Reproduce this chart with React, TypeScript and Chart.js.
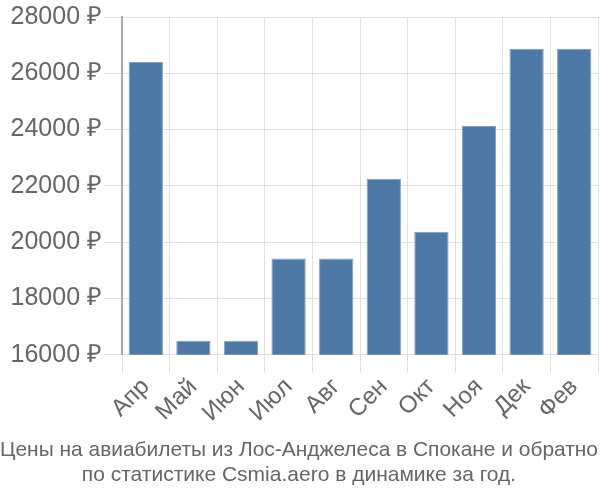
import React, { useEffect, useRef } from "react";
import { Chart, registerables } from "chart.js";

Chart.register(...registerables);

const categories = ["Апр", "Май", "Июн", "Июл", "Авг", "Сен", "Окт", "Ноя", "Дек", "Фев"];
const prices = [26400, 16500, 16500, 19420, 19420, 22250, 20370, 24130, 26870, 26870];
const titleLines = [
  "Цены на авиабилеты из Лос-Анджелеса в Спокане и обратно",
  "по статистике Csmia.aero в динамике за год.",
];

const FONT = "'Liberation Sans', Arial, sans-serif";

export default function App() {
  const ref = useRef<HTMLCanvasElement | null>(null);
  useEffect(() => {
    if (!ref.current) return;
    const chart = new Chart(ref.current, {
      type: "bar",
      data: {
        labels: categories,
        datasets: [
          {
            data: prices,
            backgroundColor: "#4e79a7",
            borderColor: "#7f9fc4",
            borderWidth: 1,
            categoryPercentage: 0.8,
            barPercentage: 0.9,
          },
        ],
      },
      options: {
        animation: false,
        responsive: true,
        maintainAspectRatio: false,
        layout: { padding: { left: 0, right: 2, top: 5, bottom: 0 } },
        plugins: {
          legend: { display: false },
          tooltip: { enabled: false },
          title: {
            display: true,
            position: "bottom",
            text: titleLines,
            color: "#666",
            font: { family: FONT, size: 21, weight: "normal" },
            padding: { top: 10, bottom: 12 },
            lineHeight: 1.3,
          },
        },
        scales: {
          x: {
            grid: { color: "#e0e0e0", lineWidth: 1, offset: true, tickLength: 18 },
            border: { color: "#e0e0e0" },
            ticks: {
              color: "#666",
              maxRotation: 45,
              minRotation: 45,
              padding: 0,
              font: { family: FONT, size: 24 },
            },
          },
          y: {
            min: 16000,
            max: 28000,
            afterFit: (scale: any) => {
              scale.width = 122;
            },
            grid: { color: "#e0e0e0", lineWidth: 1, tickLength: 18 },
            border: { color: "#aaa", width: 2 },
            ticks: {
              stepSize: 2000,
              color: "#666",
              padding: 2,
              font: { family: FONT, size: 25 },
              callback: (v: any) => v + " ₽",
            },
          },
        },
      },
    });
    return () => chart.destroy();
  }, []);
  return (
    <div style={{ position: "fixed", left: 0, top: 0, width: 600, height: 500 }}>
      <canvas ref={ref} />
    </div>
  );
}
